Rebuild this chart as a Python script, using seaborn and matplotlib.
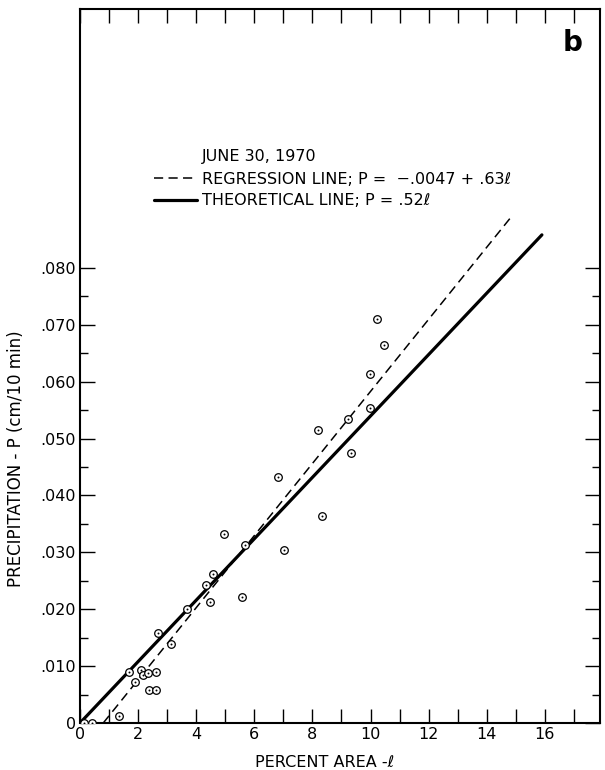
import seaborn as sns
import matplotlib.pyplot as plt
from matplotlib.ticker import FixedLocator, FixedFormatter

area = [0.15, 0.40, 1.35, 1.69, 1.88, 2.09, 2.17, 2.33, 2.61, 2.39,
        2.61, 2.70, 3.14, 3.70, 4.33, 4.47, 4.58, 4.95, 5.57, 5.67,
        6.80, 7.03, 8.18, 8.32, 9.21, 9.33, 9.97, 9.97, 10.23, 10.46]
precip = [0.0, 0.0, 0.0013, 0.0090, 0.0072, 0.0093, 0.0085, 0.0088, 0.0089, 0.0058,
          0.0058, 0.0159, 0.0139, 0.0200, 0.0243, 0.0213, 0.0262, 0.0332, 0.0221, 0.0312,
          0.0433, 0.0304, 0.0515, 0.0364, 0.0535, 0.0474, 0.0554, 0.0613, 0.0710, 0.0664]

# 회귀선 / 이론선 끝점
reg_area = [0.8, 14.85]
reg_precip = [0.0, 0.0890]
theo_area = [0.0, 15.9]
theo_precip = [0.0, 0.0858]

# 축 눈금
x_major = [0, 2, 4, 6, 8, 10, 12, 14, 16]
x_labels = ['0', '2', '4', '6', '8', '10', '12', '14', '16']
x_minor = [1, 3, 5, 7, 9, 11, 13, 15, 17]
y_major = [0, 0.01, 0.02, 0.03, 0.04, 0.05, 0.06, 0.07, 0.08]
y_labels = ['0', '.010', '.020', '.030', '.040', '.050', '.060', '.070', '.080']
y_minor = [0.005, 0.015, 0.025, 0.035, 0.045, 0.055, 0.065, 0.075]

sns.set_style('ticks')
plt.rcParams['font.family'] = ['DejaVu Sans']
plt.rcParams['text.color'] = 'black'
plt.rcParams['axes.labelcolor'] = 'black'
plt.rcParams['xtick.color'] = 'black'
plt.rcParams['ytick.color'] = 'black'
plt.rcParams['axes.edgecolor'] = 'black'

fig = plt.figure(figsize=(6.05, 7.7), dpi=100)
ax = fig.add_axes([80 / 605, 1 - 723 / 770, 520 / 605, 714 / 770])

sns.lineplot(x=reg_area, y=reg_precip, ax=ax, color='black', lw=1.1,
             linestyle=(0, (6, 3.5)), label='REGRESSION LINE; P =  \u2212.0047 + .63\u2113')
sns.lineplot(x=theo_area, y=theo_precip, ax=ax, color='black', lw=2.3,
             label='THEORETICAL LINE; P = .52\u2113')
sns.scatterplot(x=area, y=precip, ax=ax, s=30, color='white', edgecolor='black',
                linewidth=0.9, zorder=5)
sns.scatterplot(x=area, y=precip, ax=ax, s=2, color='black', linewidth=0, zorder=6)

ax.set_xlim(0, 17.9)
ax.set_ylim(0, 0.1255)

ax.xaxis.set_major_locator(FixedLocator(x_major))
ax.xaxis.set_major_formatter(FixedFormatter(x_labels))
ax.xaxis.set_minor_locator(FixedLocator(x_minor))
ax.yaxis.set_major_locator(FixedLocator(y_major))
ax.yaxis.set_major_formatter(FixedFormatter(y_labels))
ax.yaxis.set_minor_locator(FixedLocator(y_minor))

ax.tick_params(axis='x', which='both', direction='in', top=True, bottom=True,
               length=10, width=1.0, labelsize=11.5, pad=3)
ax.tick_params(axis='y', which='major', direction='in', left=True, right=True,
               length=11, width=1.0, labelsize=11.5, pad=3)
ax.tick_params(axis='y', which='minor', direction='in', left=True, right=True,
               length=6, width=1.0)

for sp in ax.spines.values():
    sp.set_linewidth(1.5)
ax.spines['bottom'].set_bounds(0.6, 17.9)

ax.set_xlabel('PERCENT AREA -\u2113', fontsize=11.5, labelpad=4)
ax.set_ylabel('PRECIPITATION - P (cm/10 min)', fontsize=12)
ax.yaxis.set_label_coords(-0.105, 0.37)
ax.xaxis.set_label_coords(0.47, -0.045)

leg = ax.legend(loc='upper left', frameon=False,
                bbox_to_anchor=(146 / 605, 1 - 164 / 770), bbox_transform=fig.transFigure,
                fontsize=11.5, handlelength=2.7, handletextpad=0.3,
                labelspacing=0.4, borderpad=0)

# 범례 제목: 항목 글자와 같은 왼쪽 위치에 맞춤
fig.canvas.draw()
tx = leg.get_texts()[0].get_window_extent().x0
fig.text(tx / fig.bbox.width, 1 - 157 / 770, 'JUNE 30, 1970', fontsize=11.5,
         ha='left', va='center')

ax.text(16.97, 0.1195, 'b', fontsize=20, fontweight='bold', ha='center', va='center')

fig.savefig('out.png', dpi=100)
